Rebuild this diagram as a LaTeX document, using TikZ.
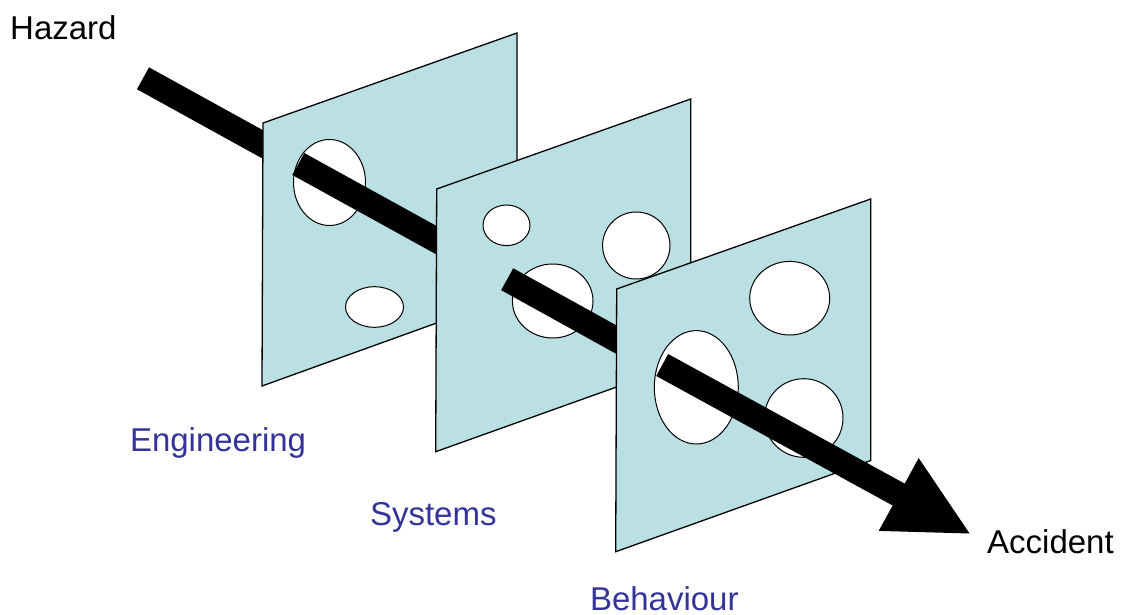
\documentclass[tikz,border=0pt]{standalone}
\usepackage{fontspec}
\setmainfont{Liberation Sans}
\definecolor{panelfill}{RGB}{187,224,227}
\definecolor{labelblue}{RGB}{51,51,153}
\begin{document}
\begin{tikzpicture}[x=1pt,y=-1pt,
  panel/.style={fill=panelfill,draw=black,line width=1.3pt,line join=miter},
  hole/.style={fill=white,draw=black,line width=1pt},
  shaft/.style={line width=25pt,line cap=butt,draw=black},
  blacklabel/.style={anchor=base west,inner sep=0pt,font=\fontsize{33}{36}\selectfont,text=black},
  bluelabel/.style={anchor=base west,inner sep=0pt,font=\fontsize{33}{36}\selectfont,text=labelblue}]
\useasboundingbox (0,0) rectangle (1125,615);
% arrow coordinates
\coordinate (a0) at (143,78.3);
\coordinate (a1) at (298.3,164);
\coordinate (a2) at (507.2,279.2);
\coordinate (a3) at (662.2,365);
\coordinate (ab) at (899.5,495);
\coordinate (hl) at (878.7,530.9);
\coordinate (hr) at (918.7,458.1);
\coordinate (tip) at (969.6,533.5);
% segment 1
\draw[shaft] (a0) -- (a1);
% panel 1
\draw[panel] (263,123) -- (517,33) -- (517,294) -- (262,386) -- cycle;
\draw[hole] (329.5,182.5) ellipse [x radius=36,y radius=43];
\draw[hole] (374.5,307) ellipse [x radius=29,y radius=20.3];
% segment 2
\draw[shaft] (a1) -- (a2);
% panel 2
\draw[panel] (436.7,189) -- (690.7,99) -- (690.7,360.5) -- (435.7,451.7) -- cycle;
\draw[hole] (506.5,225.3) ellipse [x radius=23.5,y radius=20.3];
\draw[hole] (636.3,245.5) ellipse [x radius=33.7,y radius=33.5];
\draw[hole] (552.7,301) ellipse [x radius=40.3,y radius=37];
% segment 3
\draw[shaft] (a2) -- (a3);
% panel 3
\draw[panel] (616.7,289) -- (870.7,199) -- (870.7,460.5) -- (615.7,551.7) -- cycle;
\draw[hole] (789.7,298.2) ellipse [x radius=40,y radius=36.8];
\draw[hole] (696.3,387.3) ellipse [x radius=42,y radius=56.7];
\draw[hole] (803.7,418) ellipse [x radius=39.3,y radius=39.3];
% segment 4 and head
\draw[shaft] (a3) -- (ab);
\fill[black] (hl) -- (tip) -- (hr) -- cycle;
% labels
\node[blacklabel] (hazard) at (10,39.3) {Hazard};
\node[blacklabel] (accident) at (987,553.3) {Accident};
\node[bluelabel] (eng) at (129.8,451.7) {Engineering};
\node[bluelabel] (sys) at (369.8,525.7) {Systems};
\node[bluelabel] (beh) at (589.8,610.7) {Behaviour};
\end{tikzpicture}
\end{document}
